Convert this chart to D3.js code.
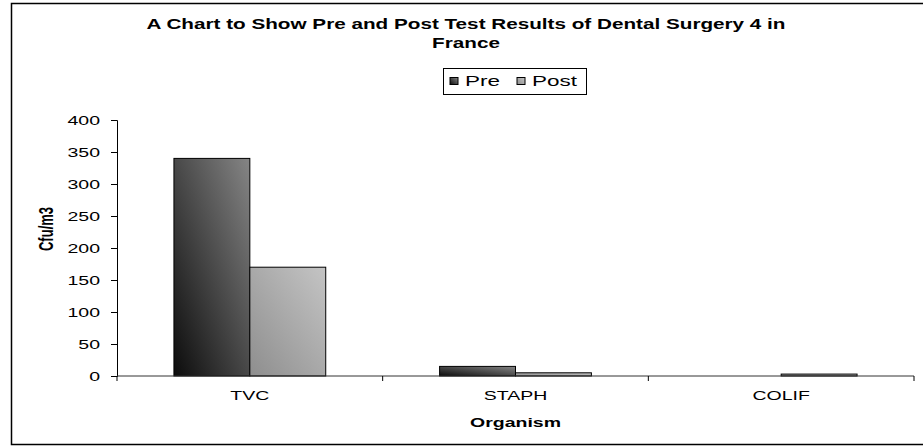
<!DOCTYPE html>
<html>
<head>
<meta charset="utf-8">
<script src="https://cdn.jsdelivr.net/npm/d3@7"></script>
<style>
  body { margin: 0; background: #fff; }
  text { font-family: "Liberation Sans", Arial, sans-serif; fill: #000; }
</style>
</head>
<body>
<div id="chartPlaceholder"></div>
<script>
const categories = ["TVC", "STAPH", "COLIF"];
const seriesNames = ["Pre", "Post"];
const preValues = [340, 15, 0];
const postValues = [170, 5, 3];
const yTicks = [0, 50, 100, 150, 200, 250, 300, 350, 400];
const titleLines = ["A Chart to Show Pre and Post Test Results of Dental Surgery 4 in", "France"];

const data = categories.map((c, i) => ({ cat: c, Pre: preValues[i], Post: postValues[i] }));

// the original picture is stretched sideways, so text is too
const K = 1.5;
function stretch(sel) {
  sel.each(function () {
    const t = d3.select(this);
    const x = +t.attr("x") || 0,
      y = +t.attr("y") || 0;
    t.attr("x", 0).attr("y", 0).attr("transform", `translate(${x}, ${y}) scale(${K}, 1)`);
  });
}

// overall size and plot area
const W = 923, H = 448;
const margin = { top: 120, right: 9, bottom: 72, left: 117 },
  width = W - margin.left - margin.right,
  height = H - margin.top - margin.bottom;

const root = d3.select("#chartPlaceholder")
  .append("svg")
  .attr("width", W)
  .attr("height", H);

// gradients for bars
const defs = root.append("defs");
function addGradient(id, from, to) {
  const g = defs.append("linearGradient")
    .attr("id", id)
    .attr("x1", 0).attr("y1", 1)
    .attr("x2", 1).attr("y2", 0);
  g.append("stop").attr("offset", "0%").attr("stop-color", from);
  g.append("stop").attr("offset", "100%").attr("stop-color", to);
}
addGradient("gradPre", "#0c0c0c", "#858585");
addGradient("gradPost", "#8e8e8e", "#c4c4c4");
const fills = { Pre: "url(#gradPre)", Post: "url(#gradPost)" };

// outer chart border (right side cut off like the original)
root.append("rect")
  .attr("x", 11.5).attr("y", 3.5)
  .attr("width", 920).attr("height", 441)
  .attr("fill", "none")
  .attr("stroke", "#000")
  .attr("stroke-width", 1.5);

// title
root.selectAll(".title")
  .data(titleLines)
  .join("text")
  .attr("class", "title")
  .attr("x", 466)
  .attr("y", (d, i) => 29 + i * 19)
  .attr("text-anchor", "middle")
  .style("font-size", "13.8px")
  .style("font-weight", "bold")
  .text((d) => d)
  .call(stretch);

const svg = root.append("g")
  .attr("transform", `translate(${margin.left}, ${margin.top})`);

// scales
const x0 = d3.scaleBand().domain(categories).range([0, width]).padding(0);
const gap = x0.bandwidth() * 0.75 / 3.5;
const x1 = d3.scaleBand().domain(seriesNames).range([gap, x0.bandwidth() - gap]).padding(0);
const y = d3.scaleLinear().domain([0, 400]).range([height, 0]);

// bars
svg.append("g")
  .selectAll("g")
  .data(data)
  .join("g")
  .attr("transform", (d) => `translate(${x0(d.cat)}, 0)`)
  .selectAll("rect")
  .data((d) => seriesNames.map((s) => ({ key: s, value: d[s] })))
  .join("rect")
  .filter((d) => d.value > 0)
  .attr("x", (d) => x1(d.key))
  .attr("y", (d) => y(d.value))
  .attr("width", x1.bandwidth())
  .attr("height", (d) => y(0) - y(d.value))
  .attr("fill", (d) => fills[d.key])
  .attr("stroke", "#000")
  .attr("stroke-width", 1);

// y axis
const yAxis = svg.append("g")
  .call(d3.axisLeft(y).tickValues(yTicks).tickSize(6).tickPadding(11))
  .style("font-size", "13px");
yAxis.selectAll("text")
  .attr("fill", "#000")
  .style("font-family", "'Liberation Sans', Arial, sans-serif")
  .call(stretch);
yAxis.select(".domain").attr("stroke", "#000");

// x axis: ticks between categories
const xAxis = svg.append("g")
  .attr("transform", `translate(0, ${height})`);
xAxis.append("line")
  .attr("x1", 0).attr("x2", width)
  .attr("stroke", "#333");
const boundaries = categories.map((c) => x0(c)).concat([width]);
xAxis.selectAll(".tk")
  .data(boundaries)
  .join("line")
  .attr("class", "tk")
  .attr("x1", (d) => d).attr("x2", (d) => d)
  .attr("y1", 0).attr("y2", 5)
  .attr("stroke", "#000");
xAxis.selectAll(".lbl")
  .data(categories)
  .join("text")
  .attr("class", "lbl")
  .attr("x", (d) => x0(d) + x0.bandwidth() / 2)
  .attr("y", 24)
  .attr("text-anchor", "middle")
  .style("font-size", "13px")
  .text((d) => d)
  .call(stretch);

// axis titles
svg.append("text")
  .attr("x", width / 2)
  .attr("y", height + 51)
  .attr("text-anchor", "middle")
  .style("font-size", "13px")
  .style("font-weight", "bold")
  .text("Organism")
  .call(stretch);

root.append("text")
  .attr("transform", `translate(53, 229) scale(${K}, 1) rotate(-90)`)
  .attr("text-anchor", "middle")
  .style("font-size", "13px")
  .style("font-weight", "bold")
  .text("Cfu/m3");

// legend
const legend = root.append("g").attr("transform", "translate(443, 68)");
legend.append("rect")
  .attr("x", 0.5).attr("y", 0.5)
  .attr("width", 143).attr("height", 26)
  .attr("fill", "#fff")
  .attr("stroke", "#000");
const legX = [7, 74];
const items = legend.selectAll(".item")
  .data(seriesNames)
  .join("g")
  .attr("class", "item")
  .attr("transform", (d, i) => `translate(${legX[i]}, 0)`);
items.append("rect")
  .attr("x", 0).attr("y", 9.5)
  .attr("width", 8).attr("height", 7)
  .attr("fill", (d) => fills[d])
  .attr("stroke", "#000");
items.append("text")
  .attr("x", 15)
  .attr("y", 18)
  .style("font-size", "15px")
  .text((d) => d)
  .call(stretch);
</script>
</body>
</html>
